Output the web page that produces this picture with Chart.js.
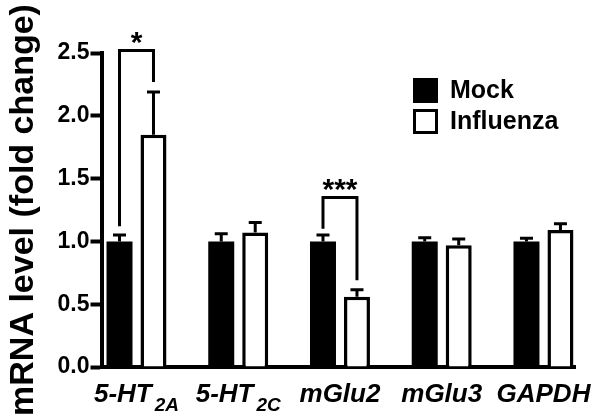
<!DOCTYPE html>
<html><head><meta charset="utf-8">
<script src="https://cdn.jsdelivr.net/npm/chart.js@4.4.0/dist/chart.umd.min.js"></script>
<style>html,body{margin:0;padding:0;background:#fff;}#wrap{width:600px;height:419px;position:relative;}</style>
</head><body><div id="wrap"><canvas id="c" width="600" height="419"></canvas></div>
<script>
const categories = ['5-HT', '5-HT', 'mGlu2', 'mGlu3', 'GAPDH'];
const categorySubscripts = ['2A', '2C', '', '', ''];
const seriesNames = ['Mock', 'Influenza'];
const mockValues = [1.00, 1.00, 1.00, 1.00, 1.00];
const mockErrors = [0.05, 0.06, 0.05, 0.03, 0.025];
const influenzaValues = [1.85, 1.07, 0.56, 0.97, 1.09];
const influenzaErrors = [0.34, 0.08, 0.055, 0.05, 0.05];
const yTicks = [0.0, 0.5, 1.0, 1.5, 2.0, 2.5];
const sigCategories = [0, 2];
const sigLabels = ['*', '***'];
const sigTops = [2.52, 1.35];
const sigLeftEnds = [1.12, 1.10];
const sigRightEnds = [2.27, 0.69];

const FONT = '"Liberation Sans", Arial, Helvetica, sans-serif';
const errorsBySet = [mockErrors, influenzaErrors];

const errorBarPlugin = {
  id: 'errorBars',
  afterDatasetsDraw(chart) {
    const ctx = chart.ctx, y = chart.scales.y;
    ctx.save();
    ctx.strokeStyle = '#000'; ctx.lineWidth = 3; ctx.lineCap = 'butt';
    chart.data.datasets.forEach((ds, di) => {
      const meta = chart.getDatasetMeta(di);
      meta.data.forEach((el, i) => {
        const v = ds.data[i].y, e = errorsBySet[di][i];
        const yt = y.getPixelForValue(v + e);
        ctx.beginPath();
        ctx.moveTo(el.x, el.y); ctx.lineTo(el.x, yt);
        ctx.moveTo(el.x - 6.5, yt); ctx.lineTo(el.x + 6.5, yt);
        ctx.stroke();
      });
    });
    const m0 = chart.getDatasetMeta(0), m1 = chart.getDatasetMeta(1);
    sigCategories.forEach((c, k) => {
      const xl = m0.data[c].x, xr = m1.data[c].x;
      const yt = y.getPixelForValue(sigTops[k]);
      ctx.beginPath();
      ctx.moveTo(xl, y.getPixelForValue(sigLeftEnds[k]));
      ctx.lineTo(xl, yt); ctx.lineTo(xr, yt);
      ctx.lineTo(xr, y.getPixelForValue(sigRightEnds[k]));
      ctx.stroke();
      ctx.fillStyle = '#000';
      ctx.font = 'bold 30px ' + FONT;
      ctx.textAlign = 'center'; ctx.textBaseline = 'alphabetic';
      ctx.fillText(sigLabels[k], (xl + xr) / 2, yt + 2);
    });
    ctx.restore();
  }
};

const labelPlugin = {
  id: 'xLabels',
  afterDraw(chart) {
    const ctx = chart.ctx, x = chart.scales.x;
    ctx.save();
    ctx.fillStyle = '#000'; ctx.textBaseline = 'alphabetic'; ctx.textAlign = 'left';
    const mainFont = 'italic bold 26px ' + FONT, subFont = 'italic bold 19px ' + FONT;
    categories.forEach((lab, i) => {
      ctx.font = mainFont; const w1 = ctx.measureText(lab).width;
      ctx.font = subFont; const sub = categorySubscripts[i];
      const w2 = sub ? ctx.measureText(sub).width + 3 : 0;
      const cx = x.getPixelForValue(i);
      const x0 = Math.min(cx - (w1 + w2) / 2, 597 - (w1 + w2));
      ctx.font = mainFont; ctx.fillText(lab, x0, 402);
      if (sub) { ctx.font = subFont; ctx.fillText(sub, x0 + w1 + 3, 411); }
    });
    const lx = 413, ly = [78, 109], bs = 25;
    ctx.font = 'bold 25px ' + FONT; ctx.textBaseline = 'middle';
    seriesNames.forEach((n, i) => {
      if (i === 0) { ctx.fillStyle = '#000'; ctx.fillRect(lx, ly[i], bs, bs); }
      else { ctx.strokeStyle = '#000'; ctx.lineWidth = 3; ctx.strokeRect(lx + 1.5, ly[i] + 1.5, bs - 3, bs - 3); }
      ctx.fillStyle = '#000';
      ctx.fillText(n, 450, ly[i] + bs / 2 + 1);
    });
    ctx.restore();
  }
};

new Chart(document.getElementById('c'), {
  type: 'bar',
  data: {
    datasets: [
      { label: seriesNames[0], data: mockValues.map((v, i) => ({ x: i, y: v })),
        backgroundColor: '#000', borderColor: '#000', borderWidth: 0 },
      { label: seriesNames[1], data: influenzaValues.map((v, i) => ({ x: i, y: v })),
        backgroundColor: '#fff', borderColor: '#000', borderWidth: 3.5 }
    ]
  },
  options: {
    responsive: false, animation: false, devicePixelRatio: 1,
    categoryPercentage: 0.668, barPercentage: 0.765,
    layout: { padding: { top: 53, right: 25, left: 0, bottom: 0 } },
    plugins: { legend: { display: false }, tooltip: { enabled: false } },
    scales: {
      x: {
        type: 'linear', min: -0.344, max: 4.310, offset: false,
        afterBuildTicks: s => { s.ticks = categories.map((c, i) => ({ value: i })); },
        grid: { display: false },
        border: { display: true, color: '#000', width: 4 },
        ticks: { display: false },
        afterFit: s => { s.height = 52; }
      },
      y: {
        min: 0, max: 2.5,
        afterBuildTicks: s => { s.ticks = yTicks.map(v => ({ value: v })); },
        ticks: { callback: v => v.toFixed(1), color: '#000', padding: 1,
                 font: { family: FONT, size: 23, weight: 'bold' } },
        grid: { drawOnChartArea: false, drawTicks: true, tickLength: 11, tickWidth: 4, color: '#000' },
        border: { display: true, color: '#000', width: 4 },
        title: { display: true, text: 'mRNA level (fold change)', color: '#000',
                 font: { family: FONT, size: 34, weight: 'bold' }, padding: { top: 3, bottom: 0 } },
        afterFit: s => { s.width = 101.5; }
      }
    }
  },
  plugins: [errorBarPlugin, labelPlugin]
});
</script></body></html>
